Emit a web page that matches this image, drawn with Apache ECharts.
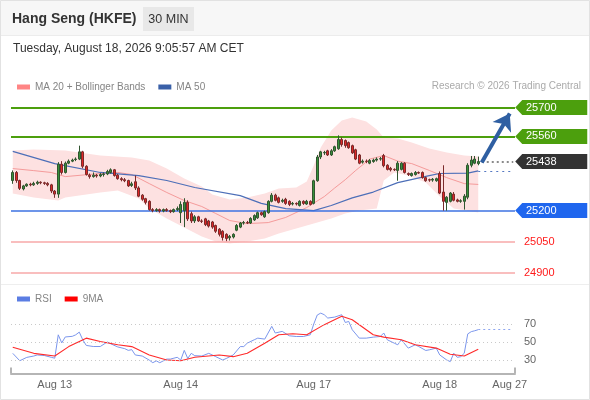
<!DOCTYPE html>
<html><head><meta charset="utf-8">
<script src="https://cdn.jsdelivr.net/npm/echarts@6/dist/echarts.min.js"></script>
<style>html,body{margin:0;padding:0;background:#fff}#c{width:590px;height:400px}</style>
</head><body><div id="c"></div><script>
const FONT = '"Liberation Sans", Arial, sans-serif';
const chartTitle = 'Hang Seng (HKFE)';
const periodText = '30 MIN';
const dateText = 'Tuesday, August 18, 2026 9:05:57 AM CET';
const creditText = 'Research \u00a9 2026 Trading Central';

// [open, close, low, high]
const candles = [
[25346,25385,25330,25395],[25385,25346,25335,25392],[25346,25308,25300,25350],[25305,25320,25298,25325],
[25320,25328,25315,25332],[25328,25325,25318,25335],[25325,25332,25320,25340],[25332,25338,25325,25345],
[25338,25335,25328,25342],[25335,25332,25325,25340],[25332,25325,25318,25338],[25325,25295,25285,25330],
[25295,25280,25262,25300],[25280,25425,25262,25435],[25425,25385,25375,25440],[25385,25430,25380,25438],
[25430,25440,25425,25448],[25440,25445,25435,25452],[25448,25450,25440,25458],[25450,25485,25445,25515],
[25485,25415,25405,25490],[25415,25375,25370,25420],[25372,25365,25355,25380],[25365,25372,25360,25385],
[25372,25368,25360,25378],[25368,25375,25362,25382],[25375,25378,25365,25385],[25378,25390,25372,25398],
[25385,25398,25380,25405],[25398,25370,25365,25402],[25372,25355,25350,25378],[25355,25350,25342,25362],
[25350,25345,25338,25358],[25346,25320,25315,25350],[25322,25330,25315,25340],[25340,25310,25300,25370],
[25310,25270,25265,25318],[25275,25255,25248,25280],[25258,25240,25230,25262],[25245,25205,25200,25250],
[25205,25200,25192,25212],[25200,25205,25195,25212],[25205,25198,25190,25210],[25198,25205,25192,25210],
[25205,25200,25195,25212],[25200,25195,25188,25205],[25195,25205,25190,25210],[25205,25210,25198,25220],
[25190,25230,25140,25245],[25200,25240,25120,25260],[25240,25160,25150,25250],[25185,25150,25140,25195],
[25150,25170,25140,25178],[25170,25150,25145,25175],[25150,25148,25140,25158],[25160,25132,25125,25165],
[25150,25125,25118,25155],[25145,25120,25112,25150],[25128,25100,25092,25132],[25110,25085,25075,25115],
[25100,25070,25055,25105],[25085,25065,25052,25090],[25068,25075,25055,25082],[25072,25085,25065,25090],
[25105,25128,25100,25135],[25120,25140,25115,25145],[25140,25142,25132,25150],[25142,25140,25135,25150],
[25140,25162,25135,25168],[25155,25176,25150,25182],[25165,25190,25160,25195],[25190,25180,25175,25195],
[25170,25195,25165,25200],[25190,25245,25185,25250],[25245,25275,25240,25285],[25275,25250,25245,25282],
[25262,25240,25235,25268],[25245,25250,25238,25258],[25255,25235,25228,25262],[25245,25230,25222,25250],
[25232,25235,25225,25242],[25235,25232,25225,25240],[25225,25245,25220,25250],[25245,25235,25228,25250],
[25232,25245,25228,25252],[25245,25230,25225,25250],[25235,25345,25230,25350],[25345,25460,25340,25470],
[25460,25485,25450,25490],[25480,25482,25470,25490],[25490,25470,25465,25495],[25470,25490,25465,25498],
[25490,25510,25485,25515],[25500,25545,25495,25565],[25545,25520,25510,25555],[25540,25515,25505,25545],
[25530,25505,25500,25535],[25515,25480,25475,25520],[25495,25450,25445,25500],[25470,25430,25425,25475],
[25435,25440,25428,25448],[25440,25438,25430,25448],[25430,25443,25425,25450],[25438,25445,25432,25452],
[25445,25450,25438,25458],[25450,25452,25442,25460],[25467,25418,25410,25475],[25420,25400,25395,25425],
[25405,25398,25390,25412],[25400,25398,25392,25405],[25395,25430,25345,25440],[25400,25430,25395,25435],
[25430,25385,25380,25435],[25380,25375,25368,25385],[25370,25380,25365,25385],[25375,25385,25370,25392],
[25385,25382,25378,25390],[25385,25360,25355,25390],[25360,25345,25340,25365],[25350,25348,25340,25355],
[25348,25352,25340,25358],[25345,25355,25340,25360],[25380,25285,25280,25390],[25290,25245,25200,25420],
[25240,25265,25200,25270],[25245,25285,25240,25290],[25280,25250,25245,25290],[25252,25245,25240,25258],
[25245,25248,25238,25255],[25245,25270,25205,25280],[25265,25420,25255,25430],[25420,25445,25410,25465],
[25430,25450,25425,25465],[25428,25438,25420,25462]
];

// [slot index, value]
const ma20 = [[0,25404],[6,25394],[11,25385],[15,25365],[25,25380],[30,25385],[34,25375],[39,25331],[44,25288],[49,25249],[54,25220],[58,25186],[62,25152],[67,25137],[73,25142],[78,25167],[84,25215],[89,25268],[92,25310],[95,25350],[98,25395],[102,25450],[106,25467],[110,25440],[114,25428],[119,25395],[124,25360],[129,25331],[133,25327]];
const ma50 = [[0,25487],[12,25428],[25,25385],[36,25370],[44,25346],[52,25312],[65,25273],[71,25235],[78,25210],[86,25200],[91,25225],[97,25262],[103,25290],[110,25336],[119,25370],[122,25380],[130,25382],[133,25393]];
const bandUpper = [[0,25491],[6,25496],[15,25491],[25,25467],[34,25458],[39,25443],[44,25404],[49,25356],[54,25317],[57,25278],[62,25254],[67,25264],[72,25283],[76,25307],[81,25312],[84,25341],[86,25419],[88,25506],[91,25588],[94,25637],[97,25651],[101,25632],[104,25593],[106,25555],[110,25550],[114,25530],[119,25501],[124,25482],[129,25467],[133,25462]];
const bandLower = [[0,25283],[6,25264],[13,25249],[15,25264],[25,25288],[30,25298],[36,25259],[39,25210],[44,25162],[49,25118],[54,25075],[58,25050],[62,25041],[67,25050],[72,25065],[76,25089],[81,25113],[86,25138],[91,25162],[95,25186],[99,25200],[104,25210],[106,25346],[109,25385],[113,25370],[118,25336],[122,25268],[126,25210],[133,25191]];

const rsi = [[0,37.4],[2,29.2],[4,32.9],[6,34.4],[7,35.6],[9,35],[11,33],[12,32],[13,58],[14,49],[15,55.6],[17,56.3],[18,58],[19,61],[20,52.5],[21,46.2],[23,45],[25,45],[27,50],[28,48],[30,44.5],[32,42.6],[33,40.7],[34,41.5],[35,35.6],[37,34.4],[39,29.9],[40,27],[41,29],[42,27],[44,31],[45,31],[47,33],[48,30],[49,40.7],[50,31.7],[51,37.4],[52,34.8],[54,34.4],[56,37.4],[58,33.7],[60,30],[61,31.7],[63,35.6],[65,44.9],[66,44.9],[67,48.7],[69,52.5],[70,54.3],[72,53.2],[74,67.4],[75,60],[77,61.8],[79,56.9],[81,56.1],[83,56.1],[85,58],[86,70],[87,80],[88,82.1],[89,80.3],[90,76.6],[92,77.7],[94,80.3],[95,71.7],[96,72.8],[97,63.6],[99,54.3],[101,54.3],[103,55.4],[105,56.1],[106,60],[107,52.5],[109,48.7],[110,46.9],[111,52.5],[113,43.2],[115,46.9],[116,45],[118,40.6],[119,41.3],[121,43.2],[122,35.6],[124,30],[125,28.2],[126,37.5],[127,33],[128,33.7],[129,37.5],[130,59],[131,61.5],[132,62.5],[133,63.7]];
const rsiMA = [[0,44.1],[6,37.4],[12,34.4],[16,44.9],[21,54.3],[25,50.5],[30,46.9],[34,44.9],[39,35.6],[44,30],[48,29.2],[52,33],[59,35.6],[63,33.7],[67,37.5],[72,48.7],[76,58],[80,59.2],[84,58],[89,69.3],[94,78.5],[97,74.7],[103,58],[106,55.4],[111,52.5],[115,46.9],[121,43.2],[125,36.4],[129,34.5],[133,41.9]];

const resistances = [25700, 25560];
const lastPrice = 25438;
const pivot = 25200;
const supports = [25050, 24900];
const rsiLevels = [30, 50, 70];
const xTickLabels = ['Aug 13', 'Aug 14', 'Aug 17', 'Aug 18', 'Aug 27'];
const xTickIndex = [12, 48, 86, 122, 142];
const arrowStart = [134, 25433];
const arrowEnd = [142, 25671];
const slotCount = 144;

// ---- build ----
const cats = Array.from({length: slotCount}, (_, i) => String(i));
const lastIdx = candles.length - 1;
const endIdx = slotCount - 1;
const tickMap = new Map(xTickIndex.map((k, i) => [k, xTickLabels[i]]));

const GREEN = '#4c9f0d', BLUE = '#1f66ee', DARK = '#333333';
const boxLevels = [resistances[0], resistances[1], lastPrice, pivot];
const boxColors = [GREEN, GREEN, DARK, BLUE];

const levelLines = [
  ...resistances.map(v => ({yAxis: v, lineStyle: {color: '#4c9f0d', width: 2, type: 'solid'}, label: {show: false}})),
  {yAxis: pivot, lineStyle: {color: '#3d72e2', width: 1.5, type: 'solid'}, label: {show: false}},
  ...supports.map(v => ({yAxis: v, lineStyle: {color: '#f7a9a9', width: 1.5, type: 'solid'},
    label: {show: true, position: 'end', distance: 9, formatter: String(v), color: '#ff1a1a', fontSize: 11, fontFamily: FONT}}))
];

const option = {
  animation: false,
  textStyle: {fontFamily: FONT},
  grid: [
    {left: 11, right: 75, top: 97.2, bottom: 117.2},
    {left: 11, right: 75, top: 306, bottom: 26.5}
  ],
  xAxis: [
    {type: 'category', gridIndex: 0, data: cats, boundaryGap: true, show: false},
    {type: 'category', gridIndex: 1, data: cats, boundaryGap: true,
      axisLine: {lineStyle: {color: '#b5b5b5', width: 2}},
      axisTick: {show: true, inside: true, length: 6, interval: (i) => i === 0, lineStyle: {color: '#b5b5b5', width: 2}},
      axisLabel: {interval: (i) => tickMap.has(i), formatter: (v) => tickMap.get(Number(v)) || '', color: '#666', fontSize: 11, margin: 6},
      splitLine: {show: false}}
  ],
  yAxis: [
    {type: 'value', gridIndex: 0, min: 24850, max: 25750, show: false},
    {type: 'value', gridIndex: 1, min: 15, max: 90, show: false}
  ],
  legend: [
    {left: 12, top: 77, itemWidth: 13, itemHeight: 5, itemGap: 13, icon: 'rect', selectedMode: false,
      textStyle: {color: '#858585', fontSize: 10}, data: ['MA 20 + Bollinger Bands', 'MA 50']},
    {left: 12, top: 289, itemWidth: 13, itemHeight: 5, itemGap: 13, icon: 'rect', selectedMode: false,
      textStyle: {color: '#858585', fontSize: 10}, data: ['RSI', '9MA']}
  ],
  graphic: [
    {type: 'rect', shape: {x: 0, y: 0, width: 590, height: 35}, style: {fill: '#f7f7f7'}, silent: true, z: -10},
    {type: 'line', shape: {x1: 0, y1: 35.5, x2: 590, y2: 35.5}, style: {stroke: '#ececec', lineWidth: 1}, silent: true},
    {type: 'text', x: 12, y: 19.5, style: {text: chartTitle, font: 'bold 14px ' + FONT, fill: '#333', textVerticalAlign: 'middle', verticalAlign: 'middle'}},
    {type: 'rect', shape: {x: 143, y: 7, width: 51, height: 24}, style: {fill: '#e8e8e8'}, silent: true},
    {type: 'text', x: 168.5, y: 19.5, style: {text: periodText, font: '12.5px ' + FONT, fill: '#333', textAlign: 'center', align: 'center', textVerticalAlign: 'middle', verticalAlign: 'middle'}},
    {type: 'text', x: 13, y: 48.5, style: {text: dateText, font: '12px ' + FONT, fill: '#333', textVerticalAlign: 'middle', verticalAlign: 'middle'}},
    {type: 'text', x: 581, y: 86, style: {text: creditText, font: '10px ' + FONT, fill: '#aaa', textAlign: 'right', align: 'right', textVerticalAlign: 'middle', verticalAlign: 'middle'}},
    {type: 'line', shape: {x1: 0, y1: 284.5, x2: 590, y2: 284.5}, style: {stroke: '#eeeeee', lineWidth: 1}, silent: true},
    {type: 'rect', shape: {x: 0.5, y: 0.5, width: 589, height: 399}, style: {fill: 'none', stroke: '#e2e2e2', lineWidth: 1}, silent: true}
  ],
  series: [
    {type: 'custom', name: 'band', xAxisIndex: 0, yAxisIndex: 0, silent: true, z: 1, clip: false,
      data: [[bandUpper[0][0], bandUpper[0][1]]],
      renderItem: (params, api) => {
        const pts = bandUpper.map(p => api.coord(p)).concat(bandLower.slice().reverse().map(p => api.coord(p)));
        return {type: 'polygon', shape: {points: pts}, style: {fill: '#fde1e1'}};
      }},
    {type: 'line', name: 'MA 20 + Bollinger Bands', xAxisIndex: 0, yAxisIndex: 0, data: ma20, symbol: 'none', z: 3,
      color: '#ff8585', lineStyle: {color: '#f59b9b', width: 1}, silent: true,
      markLine: {silent: true, symbol: ['none', 'none'], animation: false, data: levelLines}},
    {type: 'line', name: 'MA 50', xAxisIndex: 0, yAxisIndex: 0, data: ma50, symbol: 'none', z: 3,
      color: '#3a60a8', lineStyle: {color: '#4d6fb8', width: 1.2}, silent: true,
      markLine: {silent: true, symbol: ['none', 'none'], label: {show: false},
        data: [[{coord: [lastIdx, ma50[ma50.length - 1][1]]}, {coord: [endIdx, ma50[ma50.length - 1][1]]}]],
        lineStyle: {color: '#5578c2', width: 1.2, type: [2, 4]}}},
    {type: 'candlestick', name: 'price', xAxisIndex: 0, yAxisIndex: 0, data: candles, z: 5, barWidth: '72%', silent: true,
      itemStyle: {color: '#37903a', color0: '#e02626', borderColor: '#30552f', borderColor0: '#7a2b2b', borderWidth: 1},
      markLine: {silent: true, symbol: ['none', 'none'], label: {show: false},
        data: [
          [{coord: [lastIdx + 1, lastPrice]}, {coord: [endIdx, lastPrice]}],
          [{coord: arrowStart, symbol: 'none'}, {coord: arrowEnd, symbol: 'arrow', symbolSize: 16,
            lineStyle: {color: '#2f5fa2', width: 4, type: 'solid'}}]
        ],
        lineStyle: {color: '#666', width: 1.5, type: [2, 3]}},
      markPoint: {silent: true, symbol: 'path://M0,7.5L7,0L72,0L72,15L7,15Z', symbolSize: [72, 15], symbolOffset: [38, 0],
        label: {show: true, position: 'inside', offset: [-10, 0], color: '#fff', fontSize: 11, fontFamily: FONT, formatter: (p) => String(p.value)},
        data: boxLevels.map((v, i) => ({coord: [endIdx, v], value: v, itemStyle: {color: boxColors[i]}}))}},
    {type: 'line', name: 'RSI', xAxisIndex: 1, yAxisIndex: 1, data: rsi, symbol: 'none', z: 3, silent: true,
      color: '#5b7de3', lineStyle: {color: '#7b96ec', width: 1},
      markLine: {silent: true, symbol: ['none', 'none'],
        data: [
          ...rsiLevels.map(v => ({yAxis: v, lineStyle: {color: '#c9c9c9', width: 1, type: [1, 3]},
            label: {show: true, position: 'end', distance: 9, formatter: String(v), color: '#666', fontSize: 11, fontFamily: FONT}})),
          [{coord: [lastIdx, rsi[rsi.length - 1][1]]}, {coord: [endIdx, rsi[rsi.length - 1][1]],
            lineStyle: {color: '#8ea6f0', width: 1.2, type: [2, 3]}}]
        ], label: {show: false}}},
    {type: 'line', name: '9MA', xAxisIndex: 1, yAxisIndex: 1, data: rsiMA, symbol: 'none', z: 4, silent: true,
      color: '#ff0000', lineStyle: {color: '#ff2a2a', width: 1.1}}
  ]
};
const chart = echarts.init(document.getElementById('c'), null, {renderer: 'canvas'});
chart.setOption(option);
</script></body></html>
